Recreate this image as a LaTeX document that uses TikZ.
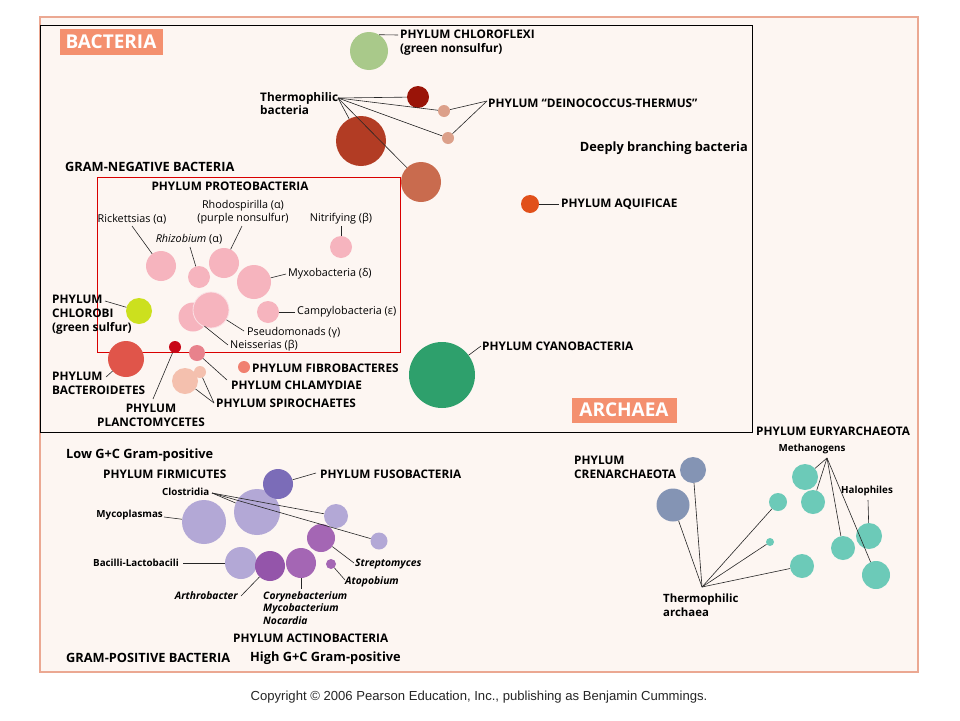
\documentclass[tikz,border=0pt]{standalone}
\usepackage{fontspec}
\setmainfont{Open Sans}
\newfontfamily\cpfont{Liberation Sans}
\definecolor{bgc}{HTML}{FDF6F2}
\definecolor{brd}{HTML}{EBA892}
\definecolor{salm}{HTML}{F4906F}
\definecolor{cChl}{HTML}{A9C98A}
\definecolor{cDred}{HTML}{9A1408}
\definecolor{cDei}{HTML}{DCA08A}
\definecolor{cBred}{HTML}{B23C24}
\definecolor{cMed}{HTML}{C96B4E}
\definecolor{cAqu}{HTML}{E1501A}
\definecolor{cPink}{HTML}{F6B4BE}
\definecolor{cChb}{HTML}{CCE01E}
\definecolor{cBac}{HTML}{E0554A}
\definecolor{cPla}{HTML}{C80818}
\definecolor{cChm}{HTML}{E8828C}
\definecolor{cFib}{HTML}{F08070}
\definecolor{cSpi}{HTML}{F4C0AE}
\definecolor{cCya}{HTML}{2EA06C}
\definecolor{cFus}{HTML}{7B6CB8}
\definecolor{cLav}{HTML}{B3A8D6}
\definecolor{cStr}{HTML}{A466B4}
\definecolor{cArt}{HTML}{9455AA}
\definecolor{cTeal}{HTML}{6CCAB8}
\definecolor{cCren}{HTML}{8494B4}
\begin{document}
\begin{tikzpicture}[x=1pt,y=-1pt,
  blob/.style={circle, inner sep=0pt, minimum size=#1},
  conn/.style={draw=black!85, line width=0.6pt},
  lblA/.style={font=\bfseries\fontsize{11.8}{14}\selectfont, inner sep=0pt, align=left},
  lblH/.style={font=\bfseries\fontsize{12.8}{14}\selectfont, inner sep=0pt, align=left},
  lblB/.style={font=\fontsize{10.8}{13}\selectfont, inner sep=0pt, align=center},
  lblC/.style={font=\bfseries\fontsize{9.8}{12}\selectfont, inner sep=0pt, align=left},
  lblI/.style={font=\bfseries\itshape\fontsize{10.3}{12.3}\selectfont, inner sep=0pt, align=left},
  lblT/.style={font=\bfseries\fontsize{11.8}{13}\selectfont, inner sep=0pt, align=left},
  tag/.style={fill=salm, text=white, font=\bfseries\fontsize{19}{19}\selectfont, inner sep=0pt}
]
\useasboundingbox (0,0) rectangle (960,720);
\fill[white] (0,0) rectangle (960,720);
\draw[brd, line width=2pt, fill=bgc] (40,17) rectangle (918,672);
\draw[black, line width=0.9pt] (40,25) rectangle (752,432);
\draw[red!85!black, line width=0.9pt] (97,177) rectangle (400,352);

% tags
\node[tag, minimum width=103pt, minimum height=26pt] (bact) at (111,42) {BACTERIA};
\node[tag, minimum width=105pt, minimum height=25pt] (arch) at (624,410) {ARCHAEA};

% ---- deeply branching bacteria
\node[blob=38pt, fill=cChl] (chl) at (369,51) {};
\node[blob=22pt, fill=cDred] (dr) at (418,97) {};
\node[blob=12pt, fill=cDei] (dt1) at (444,111) {};
\node[blob=12pt, fill=cDei] (dt2) at (448,138) {};
\node[blob=50pt, fill=cBred] (br) at (361,141) {};
\node[blob=40pt, fill=cMed] (md) at (421,182) {};
\node[blob=18pt, fill=cAqu] (aqu) at (530,204) {};

\node[lblA, anchor=west] (chlT) at (400,43) {PHYLUM CHLOROFLEXI\\(green nonsulfur)};
\node[lblT, anchor=west] (thbT) at (260,103.5) {Thermophilic\\bacteria};
\node[lblA, anchor=west] (deiT) at (488,103) {PHYLUM “DEINOCOCCUS-THERMUS”};
\node[lblH, anchor=east] (deep) at (748,148) {Deeply branching bacteria};
\node[lblA, anchor=west] (aquT) at (561,204) {PHYLUM AQUIFICAE};

\coordinate (chlL) at (398,35);
\coordinate (thbL) at (338,98);
\coordinate (deiL) at (487,101);
\coordinate (aquL) at (559,204);
\draw[conn] (chl.58) -- (chlL);
\draw[conn] (thbL) -- (dr);
\draw[conn] (thbL) -- (dt1);
\draw[conn] (thbL) -- (dt2);
\draw[conn] (thbL) -- (br);
\draw[conn] (thbL) -- (md);
\draw[conn] (deiL) -- (dt1);
\draw[conn] (deiL) -- (dt2);
\draw[conn] (aqu) -- (aquL);

% ---- gram-negative
\node[lblH, anchor=west] (gneg) at (65,167) {GRAM-NEGATIVE BACTERIA};
\node[lblA, anchor=center] (proT) at (230,186) {PHYLUM PROTEOBACTERIA};

\node[blob=30pt, fill=cPink] (ric) at (161,266) {};
\node[blob=22pt, fill=cPink] (rhz) at (199,277) {};
\node[blob=30pt, fill=cPink] (rho) at (224,263) {};
\node[blob=22pt, fill=cPink] (nit) at (341,247) {};
\node[blob=34pt, fill=cPink] (myx) at (254,282) {};
\node[blob=22pt, fill=cPink] (cam) at (268,312) {};
\node[blob=29pt, fill=cPink] (ps1) at (193,317) {};
\node[blob=36pt, fill=cPink, draw=white!60!cPink, line width=0.8pt] (ps2) at (211,310) {};
\node[blob=26pt, fill=cChb] (chb) at (139,311) {};

\node[lblB] (ricT) at (132,219) {Rickettsias (α)};
\node[lblB] (rhzT) at (189,239) {\textit{Rhizobium} (α)};
\node[lblB] (rhoT) at (243,212.5) {Rhodospirilla (α)\\(purple nonsulfur)};
\node[lblB] (nitT) at (341,219) {Nitrifying (β)};
\node[lblB, anchor=west] (myxT) at (288,274) {Myxobacteria (δ)};
\node[lblB, anchor=west] (camT) at (297,312) {Campylobacteria (ε)};
\node[lblB, anchor=west] (psT) at (247,333) {Pseudomonads (γ)};
\node[lblB, anchor=west] (neiT) at (230,346) {Neisserias (β)};
\node[lblA, anchor=west] (chbT) at (52,315) {PHYLUM\\CHLOROBI\\(green sulfur)};

\coordinate (ricL) at (132,226);
\coordinate (rhzL) at (190,247);
\coordinate (rhoL) at (242,226);
\coordinate (nitL) at (341,226);
\coordinate (myxL) at (286,274);
\coordinate (camL) at (295,312);
\coordinate (psL) at (244,331);
\coordinate (neiL) at (228,345);
\coordinate (chbL) at (105,301);
\draw[conn] (ricL) -- (ric);
\draw[conn] (rhzL) -- (rhz);
\draw[conn] (rhoL) -- (rho);
\draw[conn] (nitL) -- (nit);
\draw[conn] (myxL) -- (myx);
\draw[conn] (camL) -- (cam);
\draw[conn] (psL) -- (ps2);
\draw[conn] (neiL) -- (ps1);
\draw[conn] (chbL) -- (chb);

% ---- other gram-negative phyla
\node[blob=36pt, fill=cBac] (bac) at (126,359) {};
\node[blob=12pt, fill=cPla] (pla) at (175,347) {};
\node[blob=16pt, fill=cChm] (chm) at (197,353) {};
\node[blob=12pt, fill=cFib] (fib) at (244,367) {};
\node[blob=26pt, fill=cSpi] (spi1) at (185,381) {};
\node[blob=12pt, fill=cSpi] (spi2) at (200,372) {};
\node[blob=66pt, fill=cCya] (cya) at (442,375) {};

\node[lblA, anchor=west] (bacT) at (52,383) {PHYLUM\\BACTEROIDETES};
\node[lblA, align=center] (plaT) at (151,415) {PHYLUM\\PLANCTOMYCETES};
\node[lblA, anchor=west] (fibT) at (252,368) {PHYLUM FIBROBACTERES};
\node[lblA, anchor=west] (chmT) at (231,385) {PHYLUM CHLAMYDIAE};
\node[lblA, anchor=west] (spiT) at (216,403) {PHYLUM SPIROCHAETES};
\node[lblA, anchor=west] (cyaT) at (482,346) {PHYLUM CYANOBACTERIA};

\coordinate (bacL) at (106,377);
\coordinate (plaL) at (153,399);
\coordinate (chmL) at (227,380);
\coordinate (spiL) at (214,403);
\coordinate (cyaL) at (481,346);
\draw[conn] (bacL) -- (bac);
\draw[conn] (plaL) -- (pla);
\draw[conn] (chmL) -- (chm);
\draw[conn] (spiL) -- (spi1);
\draw[conn] (spiL) -- (spi2);
\draw[conn] (cyaL) -- (cya);

% ---- gram-positive
\node[lblH, anchor=west] (lowgc) at (66,455) {Low G+C Gram-positive};
\node[lblA, anchor=west] (firT) at (103,474) {PHYLUM FIRMICUTES};
\node[lblA, anchor=west] (fusT) at (320,474) {PHYLUM FUSOBACTERIA};

\node[blob=46pt, fill=cLav] (fb) at (257,512) {};
\node[blob=44pt, fill=cLav] (myc) at (204,522) {};
\node[blob=24pt, fill=cLav] (fs1) at (336,516) {};
\node[blob=17pt, fill=cLav] (fs2) at (379,541) {};
\node[blob=30pt, fill=cFus] (fus) at (278,484) {};
\node[blob=28pt, fill=cStr] (str) at (321,538) {};
\node[blob=10pt, fill=cStr] (ato) at (331,564) {};
\node[blob=32pt, fill=cLav] (bal) at (241,563) {};
\node[blob=30pt, fill=cArt] (art) at (270,566) {};
\node[blob=30pt, fill=cStr] (cor) at (301,563) {};

\node[lblC, anchor=west] (cloT) at (162,492) {Clostridia};
\node[lblC, anchor=east] (mycT) at (163,515) {Mycoplasmas};
\node[lblC, anchor=east] (balT) at (179,563) {Bacilli-Lactobacili};
\node[lblI, anchor=west] (strT) at (355,564) {Streptomyces};
\node[lblI, anchor=west] (atoT) at (345,582) {Atopobium};
\node[lblI, anchor=east] (artT) at (238,596) {Arthrobacter};
\node[lblI, anchor=west] (corT) at (263,608) {Corynebacterium\\Mycobacterium\\Nocardia};
\node[lblA, anchor=west] (actT) at (233,638) {PHYLUM ACTINOBACTERIA};
\node[lblH, anchor=west] (gpos) at (66,658) {GRAM-POSITIVE BACTERIA};
\node[lblH, anchor=west] (highgc) at (250,658) {High G+C Gram-positive};

\coordinate (fusL) at (316,473);
\coordinate (cloL) at (212,493);
\coordinate (mycL) at (164,517);
\coordinate (balL) at (183,563);
\coordinate (strL) at (354,563);
\coordinate (atoL) at (345,580);
\coordinate (artL) at (241,596);
\coordinate (corL) at (301,589);
\draw[conn] (fusL) -- (fus);
\draw[conn] (cloL) -- (fb);
\draw[conn] (cloL) -- (fs1);
\draw[conn] (cloL) -- (fs2);
\draw[conn] (mycL) -- (myc);
\draw[conn] (balL) -- (bal);
\draw[conn] (strL) -- (str);
\draw[conn] (atoL) -- (ato);
\draw[conn] (artL) -- (art);
\draw[conn] (corL) -- (cor);

% ---- archaea
\node[blob=26pt, fill=cTeal] (e1) at (805,477) {};
\node[blob=24pt, fill=cTeal] (e2) at (813,502) {};
\node[blob=26pt, fill=cTeal] (e3) at (869,536) {};
\node[blob=24pt, fill=cTeal] (e4) at (843,548) {};
\node[blob=28pt, fill=cTeal] (e5) at (876,575) {};
\node[blob=18pt, fill=cTeal] (t1) at (778,502) {};
\node[blob=8pt, fill=cTeal] (t2) at (770,542) {};
\node[blob=24pt, fill=cTeal] (t3) at (802,566) {};
\node[blob=26pt, fill=cCren] (c1) at (693,470) {};
\node[blob=33pt, fill=cCren] (c2) at (673,505) {};

\node[lblA, anchor=west] (euryT) at (756,431) {PHYLUM EURYARCHAEOTA};
\node[lblC, align=center] (metT) at (812,449) {Methanogens};
\node[lblC, align=center] (halT) at (867,491) {Halophiles};
\node[lblA, anchor=west] (crenT) at (574,467) {PHYLUM\\CRENARCHAEOTA};
\node[lblT, anchor=west, font=\bfseries\fontsize{11.4}{13.5}\selectfont] (thaT) at (663,605) {Thermophilic\\archaea};

\coordinate (metL) at (827,458);
\coordinate (halL) at (868,500);
\coordinate (thaL) at (702,587);
\draw[conn] (metL) -- (e1);
\draw[conn] (metL) -- (e2);
\draw[conn] (metL) -- (e4);
\draw[conn] (metL) -- (e5);
\draw[conn] (halL) -- (e3);
\draw[conn] (thaL) -- (c1);
\draw[conn] (thaL) -- (c2);
\draw[conn] (thaL) -- (t1);
\draw[conn] (thaL) -- (t2);
\draw[conn] (thaL) -- (t3);

% copyright
\node[font=\cpfont\fontsize{13.1}{15}\selectfont, text=black!85, inner sep=0pt] (copy) at (479,697) {Copyright © 2006 Pearson Education, Inc., publishing as Benjamin Cummings.};
\end{tikzpicture}
\end{document}
